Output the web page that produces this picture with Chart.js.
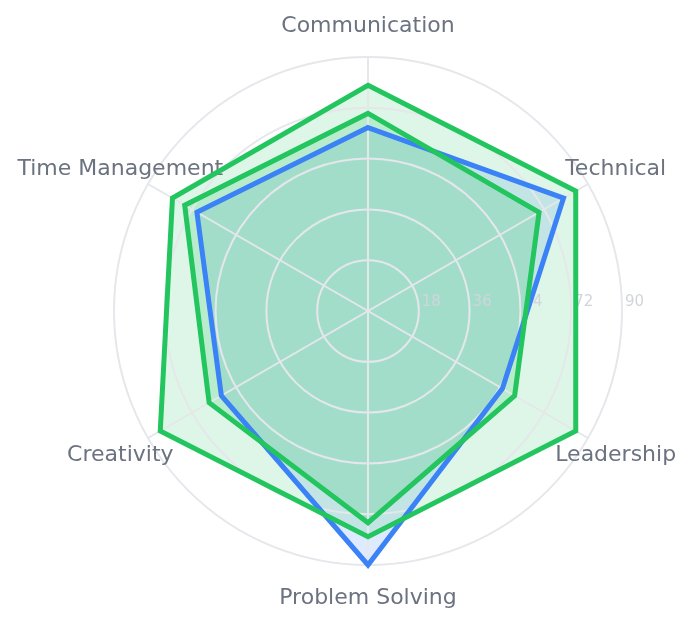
<!DOCTYPE html>
<html>
<head>
<meta charset="utf-8">
<script src="https://cdn.jsdelivr.net/npm/chart.js@4"></script>
<style>
html,body{margin:0;padding:0;background:#fff;}
#wrap{width:692px;height:624px;}
</style>
</head>
<body>
<div id="wrap"><canvas id="c" width="692" height="624"></canvas></div>
<script>
const categories = ['Communication','Technical','Leadership','Problem Solving','Creativity','Time Management'];
const seriesBlue = [65, 80, 55, 90, 60, 70];
const seriesGreenInner = [70, 70, 60, 75, 65, 75];
const seriesGreenOuter = [80, 85, 85, 80, 85, 80];
const tickValues = [18, 36, 54, 72, 90];

const labelPlugin = {
  id: 'customLabels',
  beforeDatasetsDraw(chart) {
    const s = chart.scales.r;
    const ctx = chart.ctx;
    ctx.save();
    // tick labels along the right horizontal
    ctx.font = '15px "DejaVu Sans"';
    ctx.fillStyle = '#d1d5db';
    ctx.textAlign = 'left';
    ctx.textBaseline = 'middle';
    tickValues.forEach(v => {
      const d = s.getDistanceFromCenterForValue(v);
      ctx.fillText(String(v), s.xCenter + d + 3, s.yCenter - 9);
    });
    // category labels
    ctx.font = '22px "DejaVu Sans"';
    ctx.fillStyle = '#6b7280';
    ctx.textAlign = 'center';
    ctx.textBaseline = 'middle';
    categories.forEach((c, i) => {
      const p = s.getPointPosition(i, s.drawingArea + 32);
      ctx.fillText(c, p.x, p.y + 1);
    });
    ctx.restore();
  }
};

new Chart(document.getElementById('c'), {
  type: 'radar',
  data: {
    labels: categories,
    datasets: [
      {
        data: seriesGreenOuter,
        borderColor: '#22c55e',
        backgroundColor: 'rgba(34,197,94,0.15)',
        borderWidth: 5,
        fill: true,
        pointRadius: 0,
        pointHoverRadius: 0
      },
      {
        data: seriesGreenInner,
        borderColor: '#22c55e',
        backgroundColor: 'rgba(34,197,94,0.2)',
        borderWidth: 5,
        fill: true,
        pointRadius: 0,
        pointHoverRadius: 0
      },
      {
        data: seriesBlue,
        borderColor: '#3b82f6',
        backgroundColor: 'rgba(59,130,246,0.17)',
        borderWidth: 5,
        fill: true,
        pointRadius: 0,
        pointHoverRadius: 0
      }
    ]
  },
  options: {
    responsive: false,
    animation: false,
    layout: { padding: { left: 114, right: 70, top: 57, bottom: 59 } },
    plugins: {
      legend: { display: false },
      tooltip: { enabled: false },
      filler: { drawTime: 'beforeDraw' }
    },
    scales: {
      r: {
        min: 0,
        max: 90,
        ticks: { display: false, stepSize: 18 },
        grid: { color: '#e5e7eb', lineWidth: 2, circular: true },
        angleLines: { color: '#e5e7eb', lineWidth: 2 },
        pointLabels: { display: false }
      }
    }
  },
  plugins: [labelPlugin]
});
</script>
</body>
</html>
